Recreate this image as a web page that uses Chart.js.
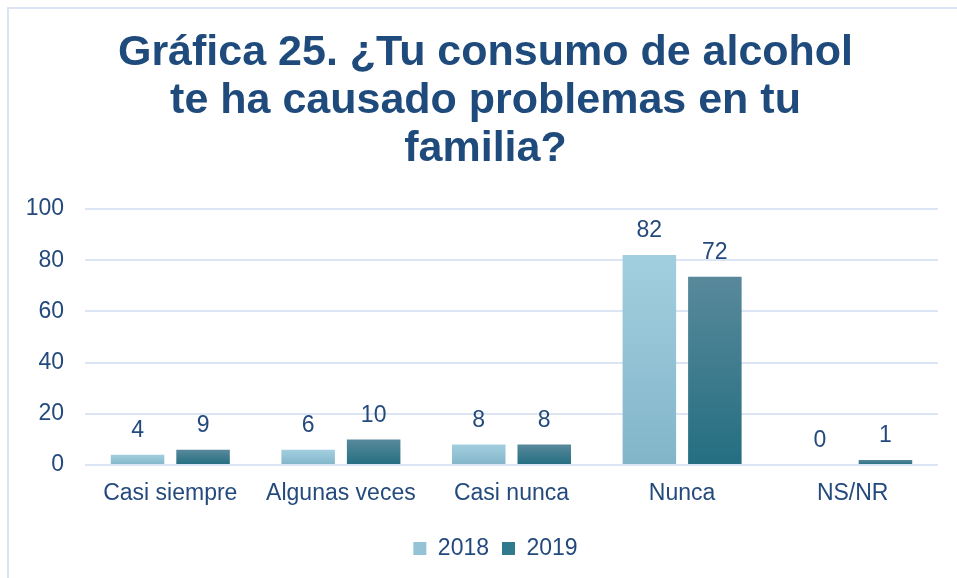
<!DOCTYPE html>
<html>
<head>
<meta charset="utf-8">
<script src="https://cdn.jsdelivr.net/npm/chart.js@4.4.0/dist/chart.umd.min.js"></script>
<style>
html, body { margin: 0; padding: 0; background: #fff; overflow: hidden; }
#wrap { position: relative; width: 957px; height: 578px; overflow: hidden; }
#frame { position: absolute; left: 7px; top: 7px; width: 980px; height: 600px;
         border-left: 2px solid #dae4f2; border-top: 2px solid #dae4f2; }
canvas { position: absolute; left: 0; top: 0; }
</style>
</head>
<body>
<div id="wrap">
  <div id="frame"></div>
  <canvas id="chart" width="957" height="578"></canvas>
</div>
<script>
// Chart data
const categories = ["Casi siempre", "Algunas veces", "Casi nunca", "Nunca", "NS/NR"];
const bars2018 = [4, 6, 8, 82, 0];
const bars2019 = [6, 10, 8, 73.5, 2];
const labels2018 = ["4", "6", "8", "82", "0"];
const labels2019 = ["9", "10", "8", "72", "1"];
const titleLines = ["Gráfica 25. ¿Tu consumo de alcohol", "te ha causado problemas en tu", "familia?"];

const textColor = "#244a7d";
const fontFamily = "'Liberation Sans', Arial, sans-serif";

// each bar gets its own vertical gradient, like the original
const barGradient = (topColor, bottomColor) => (ctx) => {
    const chart = ctx.chart;
    if (ctx.type !== "data" || !chart.chartArea) return bottomColor;
    const y = chart.scales.y;
    const top = y.getPixelForValue(ctx.raw);
    const base = y.getPixelForValue(0);
    if (base - top < 1) return bottomColor;
    const g = chart.ctx.createLinearGradient(0, top, 0, base);
    g.addColorStop(0, topColor);
    g.addColorStop(1, bottomColor);
    return g;
};

const valueLabels = {
    id: "valueLabels",
    afterDatasetsDraw(chart) {
        const ctx = chart.ctx;
        const texts = [labels2018, labels2019];
        ctx.save();
        ctx.font = "23px " + fontFamily;
        ctx.fillStyle = textColor;
        ctx.textAlign = "center";
        ctx.textBaseline = "middle";
        chart.data.datasets.forEach((ds, i) => {
            chart.getDatasetMeta(i).data.forEach((bar, j) => {
                ctx.fillText(texts[i][j], bar.x, bar.y - 24);
            });
        });
        ctx.restore();
    }
};

// nudge the legend a little to the right, as in the original
const legendShift = {
    id: "legendShift",
    afterLayout(chart) {
        chart.legend.left += 10;
        chart.legend.right += 10;
    }
};

const chart = new Chart(document.getElementById("chart").getContext("2d"), {
    type: "bar",
    data: {
        labels: categories,
        datasets: [{
            label: "2018",
            data: bars2018,
            backgroundColor: barGradient("#a2cfdf", "#82b5c9"),
            categoryPercentage: 0.768,
            barPercentage: 0.817,
        }, {
            label: "2019",
            data: bars2019,
            backgroundColor: barGradient("#58899b", "#246e81"),
            categoryPercentage: 0.768,
            barPercentage: 0.817,
        }]
    },
    options: {
        responsive: false,
        animation: false,
        devicePixelRatio: 1,
        layout: { padding: { left: 14, right: 0, top: 0, bottom: 8 } },
        scales: {
            x: {
                grid: { display: false, drawTicks: false },
                border: { display: false },
                ticks: { color: textColor, font: { family: fontFamily, size: 23 }, padding: 15, maxRotation: 0 },
                afterFit: (s) => { s.height = 59; },
            },
            y: {
                min: 0,
                max: 100,
                grid: { color: "#dbe5f3", lineWidth: 2, drawTicks: false },
                border: { display: false },
                ticks: { stepSize: 20, color: textColor, font: { family: fontFamily, size: 23 }, padding: 21 },
                afterFit: (s) => { s.width = 71; },
            },
            // empty right axis, only keeps the plot off the right edge
            yRight: {
                position: "right",
                grid: { display: false, drawTicks: false },
                border: { display: false },
                ticks: { display: false },
                afterFit: (s) => { s.width = 19; },
            }
        },
        plugins: {
            title: {
                display: true,
                text: titleLines,
                color: "#1f4a7c",
                font: { family: fontFamily, size: 43, weight: "bold", lineHeight: 48 / 43 },
                padding: { top: 29, bottom: 36 },
            },
            legend: {
                position: "bottom",
                labels: {
                    color: textColor,
                    font: { family: fontFamily, size: 23 },
                    boxWidth: 13,
                    boxHeight: 13,
                    padding: 13,
                    generateLabels: () => [
                        { text: "2018", fillStyle: "#93c3d5", strokeStyle: "#93c3d5", lineWidth: 0, datasetIndex: 0, fontColor: textColor },
                        { text: "2019", fillStyle: "#2f7a8d", strokeStyle: "#2f7a8d", lineWidth: 0, datasetIndex: 1, fontColor: textColor },
                    ],
                },
            },
            tooltip: { enabled: false },
        },
    },
    plugins: [valueLabels, legendShift],
});
</script>
</body>
</html>
